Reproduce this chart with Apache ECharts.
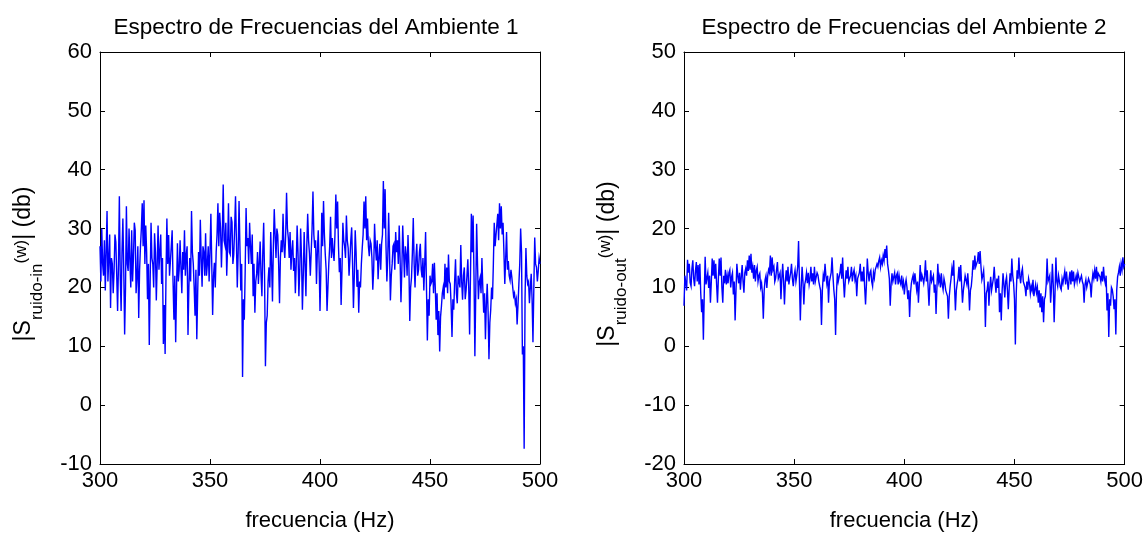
<!DOCTYPE html>
<html>
<head>
<meta charset="utf-8">
<title>Espectro de Frecuencias</title>
<script src="https://cdn.jsdelivr.net/npm/echarts@6/dist/echarts.min.js"></script>
<style>
  html, body { margin: 0; padding: 0; background: #ffffff; }
  #chart { width: 1146px; height: 537px; }
</style>
</head>
<body>
<div id="chart"></div>
<script>
// Frequency grid: 300 Hz to 500 Hz, one bin every 0.4 Hz
const F_START = 300;
const F_STEP = 0.4;

// Spectrum magnitude of room 1, dB (501 bins)
const ambiente1Db = [
  27, 21, 30, 24, 22, 28, 19.5, 26, 33, 21,
  25, 29, 16.5, 25, 24, 19, 22.8, 29, 27.7, 22,
  16, 24, 35.5, 22, 16, 26, 31.7, 23, 12, 20,
  33.8, 24, 22.8, 30, 24.4, 20, 29.7, 21, 25, 31,
  29.7, 19, 21.8, 27, 14.8, 23, 27, 30, 34.3, 27,
  34.8, 24, 30.5, 26, 18, 24, 10.2, 21, 31, 25,
  24, 20, 29.2, 26, 17.8, 24, 30.5, 23, 26, 29,
  20.6, 25, 10.4, 17, 8.7, 22, 31.7, 24, 28.9, 22,
  24.4, 27, 29.7, 21, 14.5, 22, 10.7, 20, 27.5, 21,
  23, 28, 23.4, 19, 26, 23, 29.7, 22, 25.6, 27,
  11.9, 20, 25, 21, 33, 26, 24, 20, 15.2, 23,
  11.2, 19, 26, 22, 31.5, 25, 20.1, 27, 26, 22,
  29.2, 22, 24, 27, 21, 26, 32.5, 24, 15.3, 22,
  24.2, 20, 26, 29, 34.3, 27, 32.7, 30, 23.4, 29,
  37.5, 28, 27.2, 31, 22, 27, 34.3, 26, 25.6, 32,
  31.1, 24, 25.6, 30, 35.5, 28, 20, 26, 34.7, 27,
  19.5, 24, 4.8, 18, 14.5, 23, 33.5, 27, 28.4, 24,
  31, 27, 24, 29, 18.5, 24, 15.7, 21, 22.3, 26,
  20.6, 24, 27.8, 22, 18.5, 26, 31, 22, 6.6, 14,
  15.2, 21, 23.4, 20, 29.4, 24, 17.6, 27, 33.3, 29,
  25, 30, 28.9, 24, 17.3, 25, 28, 26, 32.5, 27,
  25, 29, 36.1, 30, 28.4, 25, 29.4, 23, 26.1, 28,
  22.8, 25, 19, 24, 30.5, 26, 18.5, 23, 30, 25,
  16.2, 22, 29.4, 24, 18.5, 27, 32.5, 28, 25.8, 22,
  26, 30, 36.3, 29, 26.7, 28, 20.6, 26, 29.7, 24,
  16, 23, 32.7, 27, 34.7, 29, 25.6, 23, 16, 20,
  24, 27, 32, 25, 28.4, 26, 24.5, 29, 35.8, 30,
  34.6, 27, 22.6, 25, 17, 23, 31, 28, 27, 25,
  32.2, 28, 26.7, 22, 24.8, 28, 30.2, 24, 16.5, 22,
  29.7, 26, 20.1, 23, 15.7, 21, 20, 24, 26.7, 29,
  34.6, 30, 35.5, 28, 31.7, 27, 25.3, 28, 27.4, 25,
  19.6, 23, 30.8, 27, 24.6, 28, 21.4, 25, 27.4, 23,
  27.4, 29, 38.1, 30, 36.7, 27, 21, 25, 32.7, 26,
  17.8, 22, 24, 27, 27.4, 23, 29.4, 26, 28, 24,
  30.5, 25, 17.5, 23, 30.5, 26, 21.7, 27, 25.5, 22,
  28.9, 24, 14.3, 20, 21.7, 26, 31.8, 24, 20, 25,
  27.4, 22, 23, 26, 27.4, 23, 21.7, 25, 19.5, 24,
  29.4, 20, 11, 18, 15.2, 22, 20.6, 21, 24, 19,
  24.2, 20, 14.5, 19, 11.9, 16, 9.1, 15, 16.8, 19,
  20, 18, 24, 20, 23.4, 19, 25.6, 21, 20.6, 17,
  11.6, 18, 16.2, 21, 24.8, 19, 17.3, 22, 21.7, 20,
  27.2, 21, 17.9, 22, 23.4, 18, 19.5, 22, 24.8, 20,
  12, 22, 32.5, 26, 32.2, 22, 8.3, 19, 30.8, 24,
  18, 21, 21.7, 19, 25, 20, 15.7, 19, 11.2, 17,
  20.6, 16, 7.8, 14, 16.2, 20, 18, 24, 31, 27,
  28.9, 29, 32.5, 28, 34.3, 30, 33.8, 29, 31, 26,
  20.6, 25, 29.4, 23, 24.5, 22, 21.2, 23, 21.7, 20,
  18.5, 19, 17.3, 18, 13.7, 17, 20.6, 24, 30, 26,
  8.6, 10, -7.4, 18, 26.7, 22, 20.6, 21, 17.3, 20,
  22.3, 18, 10.7, 20, 28.5, 24, 23.4, 21, 22.8, 25,
  24
];

// Spectrum magnitude of room 2, dB (501 bins)
const ambiente2Db = [
  6.9, 12, 11.8, 9.5, 14.7, 12.5, 14, 10.8, 10.2, 13.2,
  14.6, 11.5, 10.2, 12.8, 14.3, 11, 13.8, 10.5, 14, 9,
  5.8, 8, 1.1, 9, 15.2, 10.5, 11.6, 12.5, 9.9, 12,
  7.4, 11, 14.9, 12, 14.6, 11.5, 14, 10.5, 7.4, 11.5,
  14.9, 12, 15.1, 10, 7.4, 12, 10.7, 13, 10.5, 12,
  10.7, 12.5, 13, 10, 11.8, 12.5, 8.8, 11, 4.4, 9.5,
  14, 12, 10.7, 12.5, 9.6, 11.8, 13.8, 11, 9.1, 12.5,
  13.2, 12, 14.6, 12.8, 15.4, 13, 15.7, 12.5, 13.5, 11.5,
  13.8, 11, 12.9, 13.5, 11, 12, 12.4, 10, 10.7, 9,
  4.7, 9.5, 11.3, 12, 9.9, 12, 13, 12.5, 15.4, 12,
  15.1, 13, 13.5, 11, 11.6, 13, 14.3, 11.5, 11.8, 12.5,
  8, 11.5, 14, 11, 7.1, 11, 12.9, 11, 13.5, 10.5,
  11.6, 12.5, 14, 11.5, 10.2, 12, 12.9, 11, 12.1, 13.5,
  17.9, 11, 4.4, 10, 13.5, 11, 7.1, 10.5, 11.3, 12.5,
  10.7, 12.5, 10.5, 11.5, 13.5, 11, 12.4, 10.5, 13.5, 11,
  11.3, 12.5, 12.1, 11, 10.2, 9.5, 3.6, 9.5, 12, 11,
  14, 12, 10.7, 12, 7.4, 11, 10.7, 12.5, 15.1, 12,
  9.6, 8, 1.9, 9, 12.4, 11, 10.7, 12.5, 14, 11.5,
  15.1, 11, 8.3, 11, 12.9, 11.5, 13.5, 11, 11, 12,
  13.5, 11, 12.4, 13, 11.3, 12, 8.5, 11.5, 11.3, 12.5,
  14, 11, 12.7, 11, 13.5, 10, 7.1, 10.5, 14.9, 12.5,
  11, 12.5, 12.9, 11, 10.2, 12.5, 11.6, 13, 12.9, 14,
  13.5, 14.5, 15.1, 13.5, 14.6, 14, 15.4, 14.5, 16.5, 15,
  17.1, 14, 12.9, 11.5, 6.9, 10.5, 12.4, 11, 11.8, 12.5,
  10.5, 12, 12.4, 10.5, 12.1, 11, 10.5, 12, 10.2, 11,
  8.8, 10.5, 11.3, 10, 8, 9.5, 5, 9, 10.7, 11.5,
  12.1, 10.5, 12.4, 11, 9.6, 11, 7.4, 10.5, 13.8, 11,
  12.1, 11.5, 10.7, 12, 14.6, 11, 12.9, 10, 6.9, 10.5,
  12.9, 11, 10.7, 12, 9.1, 10.5, 5.5, 10, 14, 11,
  11.8, 10, 12.4, 10.5, 9.6, 11.5, 10.7, 9.5, 9.6, 8.5,
  4.7, 8.5, 10.2, 11.5, 13.2, 12, 14.6, 10, 6.1, 9.5,
  10.7, 11.5, 13.5, 11, 13.8, 10.5, 7.4, 9.5, 10.7, 12,
  11.8, 10.5, 12.4, 10, 6.1, 9.5, 10.2, 12, 14.6, 13,
  15.4, 13.5, 14, 14.5, 16, 14, 16.2, 13.5, 11.3, 12,
  12.9, 10, 3.3, 9, 9.6, 11, 6.9, 10, 11.8, 9.5,
  10.5, 11.5, 13.5, 11, 9.1, 11.5, 9.9, 12, 5.8, 9,
  4.4, 9.5, 12.4, 10.5, 8.3, 11, 11.8, 9.5, 6.3, 10,
  12.4, 11, 14.9, 12, 10.7, 8, 0.3, 9, 12.9, 11.5,
  15.1, 12, 10.7, 12.5, 13.2, 11, 11.3, 10, 8.5, 11,
  9.6, 11.5, 10.7, 9, 10.2, 9.5, 11.3, 8.5, 9.6, 10.5,
  9.1, 10, 7.4, 9.5, 6.6, 9, 5.8, 8.5, 4.1, 8,
  8.5, 10.5, 14.9, 11, 10.7, 12, 7.4, 10, 14, 10.5,
  4.1, 9, 15.1, 11, 10.2, 12, 11.8, 10, 9.6, 11.5,
  10.7, 11, 12.7, 10.5, 12.7, 11, 9.6, 11.5, 12.7, 10.5,
  12.9, 11, 12.7, 10.5, 10.2, 12, 11, 12.5, 12.7, 11,
  10.7, 12, 11, 10.5, 7.4, 10.5, 11.3, 10, 9.9, 11.5,
  11, 10.5, 8.3, 11, 12.4, 11.5, 12.9, 11.5, 13.5, 11,
  12.4, 12.5, 11.8, 11, 12.7, 11, 13.5, 11.5, 10.7, 12,
  6.1, 9, 1.6, 8, 6.9, 10, 9.6, 8.5, 6.3, 8,
  2, 9.5, 11.8, 12.5, 13.5, 12, 14, 13, 15.1, 13.5,
  14
];

// Axis ranges and tick labels
const xTicks = [300, 350, 400, 450, 500];
const yTicks1 = [-10, 0, 10, 20, 30, 40, 50, 60];
const yTicks2 = [-20, -10, 0, 10, 20, 30, 40, 50];

const titles = ['Espectro de Frecuencias del Ambiente 1', 'Espectro de Frecuencias del Ambiente 2'];
const xName = 'frecuencia (Hz)';
const ySubs = ['ruido-in', 'ruido-out'];

const FONT = '"Liberation Sans", Arial, Helvetica, sans-serif';
const INK = '#000000';

function toPairs(values) {
  return values.map((v, i) => [F_START + i * F_STEP, v]);
}

const grids = [
  { left: 100, top: 52, width: 440, height: 424 },
  { left: 684, top: 52, width: 444, height: 424 }
];

function xAxisFor(gi, bottom) {
  return {
    type: 'value', gridIndex: gi, position: bottom ? 'bottom' : 'top',
    min: xTicks[0], max: xTicks[xTicks.length - 1], interval: xTicks[1] - xTicks[0],
    name: bottom ? xName : '', nameLocation: 'middle', nameGap: 46,
    nameTextStyle: { color: INK, fontSize: 22, fontFamily: FONT },
    axisLine: { show: true, onZero: false, lineStyle: { color: INK, width: 1 } },
    axisTick: { show: true, inside: true, length: 5, lineStyle: { color: INK } },
    axisLabel: { show: bottom, color: INK, fontSize: 22, fontFamily: FONT, margin: 6 },
    splitLine: { show: false }
  };
}

function yAxisFor(gi, ticks, left) {
  return {
    type: 'value', gridIndex: gi, position: left ? 'left' : 'right',
    min: ticks[0], max: ticks[ticks.length - 1], interval: ticks[1] - ticks[0],
    axisLine: { show: true, onZero: false, lineStyle: { color: INK, width: 1 } },
    axisTick: { show: true, inside: true, length: 5, lineStyle: { color: INK } },
    axisLabel: { show: left, color: INK, fontSize: 22, fontFamily: FONT, margin: 8 },
    splitLine: { show: false }
  };
}

// Rotated y-axis label with subscript and superscript
function yLabel(x, sub) {
  return {
    type: 'text', x: x, y: 264, rotation: Math.PI / 2, silent: true,
    style: {
      text: '{b||S}{s|' + sub + '}{p|(w)}{b|| (db)}',
      align: 'center', verticalAlign: 'middle', fill: INK,
      rich: {
        b: { fontSize: 23, fontFamily: FONT, lineHeight: 44, verticalAlign: 'middle', fill: INK },
        s: { fontSize: 17, fontFamily: FONT, lineHeight: 18, verticalAlign: 'bottom', fill: INK },
        p: { fontSize: 17, fontFamily: FONT, lineHeight: 18, verticalAlign: 'middle', padding: [0, 0, 5, 0], fill: INK }
      }
    }
  };
}

function titleText(cx, text) {
  return {
    type: 'text', x: cx, y: 28, silent: true,
    style: { text: text, align: 'center', verticalAlign: 'middle', fill: INK, fontSize: 22.5, fontFamily: FONT }
  };
}

function spectrumSeries(axisIndex, values) {
  return {
    type: 'line', xAxisIndex: axisIndex, yAxisIndex: axisIndex, data: toPairs(values),
    smooth: false, showSymbol: false, symbol: 'none',
    lineStyle: { color: '#0000ff', width: 1.4, join: 'miter' }
  };
}

const option = {
  animation: false,
  backgroundColor: '#ffffff',
  grid: grids,
  xAxis: [xAxisFor(0, true), xAxisFor(0, false), xAxisFor(1, true), xAxisFor(1, false)],
  yAxis: [yAxisFor(0, yTicks1, true), yAxisFor(0, yTicks1, false), yAxisFor(1, yTicks2, true), yAxisFor(1, yTicks2, false)],
  series: [
    spectrumSeries(0, ambiente1Db),
    spectrumSeries(2, ambiente2Db)
  ],
  graphic: [
    titleText(316, titles[0]),
    titleText(904, titles[1]),
    yLabel(24, ySubs[0]),
    yLabel(608, ySubs[1])
  ]
};

const chart = echarts.init(document.getElementById('chart'), null, { renderer: 'canvas' });
chart.setOption(option);
</script>
</body>
</html>
